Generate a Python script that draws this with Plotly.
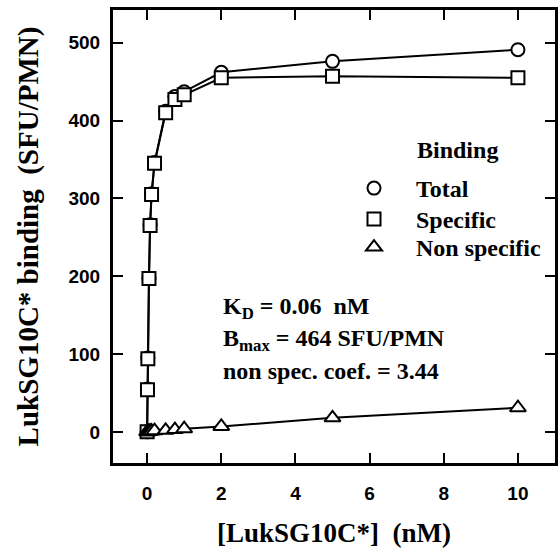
import plotly.graph_objects as go

# ---- data ----
conc = [0, 0.01, 0.02, 0.05, 0.08, 0.12, 0.2, 0.5, 0.75, 1, 2, 5, 10]
total = [0, 55, 95, 197, 266, 306, 346, 412, 431, 437, 462, 476, 491]
specific = [0, 54, 94, 197, 265, 305, 345, 410, 427, 433, 455, 457, 455]
nonspec = [0, 0, 0.5, 0.5, 1, 1, 1.5, 2, 3, 4, 7, 18, 31]

series_names = ["Total", "Specific", "Non specific"]
series_vals = [total, specific, nonspec]
series_symbols = ["circle", "square", "triangle-up"]
series_sizes = [13, 13, 14]
legend_ids = ["legend", "legend2", "legend3"]
legend_rows_px = [166, 197, 225]  # top of each legend row (pixels)

xticks = [0, 2, 4, 6, 8, 10]
yticks = [0, 100, 200, 300, 400, 500]

SERIF = "Liberation Serif"
SANS = "Liberation Sans"
W, H = 560, 548
ML, MR, MT, MB = 113, 5, 10, 85
PW, PH = W - ML - MR, H - MT - MB

fig = go.Figure()

for vals in series_vals:
    fig.add_trace(go.Scatter(x=conc, y=vals, mode="lines",
                             line=dict(color="black", width=2),
                             showlegend=False, hoverinfo="skip"))

for name, vals, sym, sz, lg in zip(series_names, series_vals, series_symbols,
                                   series_sizes, legend_ids):
    fig.add_trace(go.Scatter(
        x=conc, y=vals, mode="markers", name=name, legend=lg,
        marker=dict(symbol=sym, size=sz, color="white",
                    line=dict(color="black", width=2)),
    ))

axis_common = dict(
    showline=True, linewidth=3, linecolor="black", mirror="ticks",
    ticks="inside", ticklen=10, tickwidth=2, tickcolor="black",
    showgrid=False, zeroline=False, automargin=False,
    tickfont=dict(family=SANS, size=19, color="black", weight="bold"),
)

fig.update_xaxes(range=[-0.92, 11.0], tickvals=xticks,
                 ticktext=[str(v) for v in xticks],
                 ticklabelstandoff=11,
                 title=dict(text="[LukSG10C*]\u00a0\u00a0(nM)",
                            font=dict(family=SERIF, size=27, color="black", weight="bold"),
                            standoff=43),
                 **axis_common)
fig.update_yaxes(range=[-40, 542], tickvals=yticks,
                 ticktext=[str(v) for v in yticks],
                 ticklabelstandoff=6,
                 title=dict(text="LukSG10C* binding\u00a0\u00a0(SFU/PMN)",
                            font=dict(family=SERIF, size=29, color="black", weight="bold"),
                            standoff=22),
                 **axis_common)

ann_font = dict(family=SERIF, size=24, color="black", weight="bold")
for txt, yv in [("K<sub>D</sub> = 0.06\u00a0\u00a0nM", 159),
                ("B<sub>max</sub> = 464 SFU/PMN", 118),
                ("non spec. coef. = 3.44", 78)]:
    fig.add_annotation(x=2.0, y=yv, xref="x", yref="y", xanchor="left", yanchor="middle",
                       text=txt, showarrow=False, font=ann_font)
fig.add_annotation(x=(415 - ML) / PW, y=(MT + PH - 150) / PH, xref="paper", yref="paper",
                   xanchor="left", yanchor="middle", text="Binding", showarrow=False,
                   font=ann_font)

legend_layout = {}
for lg, top in zip(legend_ids, legend_rows_px):
    legend_layout[lg] = dict(
        x=(332 - ML) / PW, y=(MT + PH - top) / PH, xanchor="left", yanchor="top",
        bgcolor="rgba(0,0,0,0)", itemwidth=74,
        font=dict(family=SERIF, size=24, color="black", weight="bold"),
    )

fig.update_layout(
    width=W, height=H,
    margin=dict(l=ML, r=MR, t=MT, b=MB),
    paper_bgcolor="white", plot_bgcolor="white",
    **legend_layout,
)

fig.write_html("out.html", config={"displayModeBar": False},
               post_script="document.body.style.margin='0px';")
